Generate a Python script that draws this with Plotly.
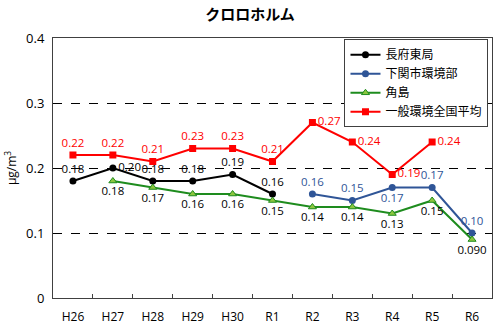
import plotly.graph_objects as go

# Fiscal years (Heisei / Reiwa)
years = ["H26", "H27", "H28", "H29", "H30", "R1", "R2", "R3", "R4", "R5", "R6"]

# Annual mean chloroform concentration (μg/m³)
chofu = [0.18, 0.20, 0.18, 0.18, 0.19, 0.16, None, None, None, None, None]
shimonoseki = [None, None, None, None, None, None, 0.16, 0.15, 0.17, 0.17, 0.10]
tsunoshima = [None, 0.18, 0.17, 0.16, 0.16, 0.15, 0.14, 0.14, 0.13, 0.15, 0.090]
national = [0.22, 0.22, 0.21, 0.23, 0.23, 0.21, 0.27, 0.24, 0.19, 0.24, None]

FONT = "Open Sans, Noto Sans CJK JP, sans-serif"
LABEL_SIZE = 11.5


def labels(vals):
    out = []
    for v in vals:
        if v is None:
            out.append("")
        elif v < 0.1:
            out.append("{:.3f}".format(v))
        else:
            out.append("{:.2f}".format(v))
    return out


fig = go.Figure()

fig.add_trace(go.Scatter(
    x=years, y=chofu, name="長府東局", mode="lines+markers+text",
    line=dict(color="#000000", width=2),
    marker=dict(symbol="circle", size=7, color="#000000"),
    text=labels(chofu),
    textposition=["top center", "middle right", "top center", "top center",
                  "top center", "top center"] + ["top center"] * 5,
    textfont=dict(color="#000000", size=LABEL_SIZE, family=FONT),
    cliponaxis=False,
))

fig.add_trace(go.Scatter(
    x=years, y=shimonoseki, name="下関市環境部", mode="lines+markers+text",
    line=dict(color="#2F5597", width=2),
    marker=dict(symbol="circle", size=7, color="#2F5597"),
    text=labels(shimonoseki),
    textposition=["top center"] * 8 + ["bottom center", "top center", "top center"],
    textfont=dict(color="#2F5597", size=LABEL_SIZE, family=FONT),
    cliponaxis=False,
))

fig.add_trace(go.Scatter(
    x=years, y=tsunoshima, name="角島", mode="lines+markers+text",
    line=dict(color="#1E8C1E", width=2),
    marker=dict(symbol="triangle-up", size=7, color="#8CC63F",
                line=dict(color="#1E8C1E", width=1)),
    text=labels(tsunoshima),
    textposition="bottom center",
    textfont=dict(color="#000000", size=LABEL_SIZE, family=FONT),
    cliponaxis=False,
))

fig.add_trace(go.Scatter(
    x=years, y=national, name="一般環境全国平均", mode="lines+markers+text",
    line=dict(color="#FF0000", width=2),
    marker=dict(symbol="square", size=7, color="#FF0000"),
    text=labels(national),
    textposition=["top center"] * 6 + ["middle right"] * 4 + ["top center"],
    textfont=dict(color="#FF0000", size=LABEL_SIZE, family=FONT),
    cliponaxis=False,
))

fig.update_layout(
    width=500, height=326,
    margin=dict(l=53, r=8, t=38, b=28),
    paper_bgcolor="white", plot_bgcolor="white",
    font=dict(family=FONT, size=12, color="#000000"),
    title=dict(text="<b>クロロホルム</b>", x=0.5, xanchor="center",
               y=0.955, yanchor="middle",
               font=dict(size=15, family=FONT, color="#000000")),
    showlegend=True,
    legend=dict(
        x=0.828, y=0.995, xanchor="center", yanchor="top",
        bgcolor="white", bordercolor="#404040", borderwidth=1,
        font=dict(size=12, family=FONT, color="#000000"),
        tracegroupgap=0, itemwidth=30,
    ),
    xaxis=dict(
        type="category", categoryorder="array", categoryarray=years,
        showline=True, linecolor="#404040", linewidth=1, mirror=True,
        ticks="inside", tickson="boundaries", ticklen=4, tickcolor="#404040",
        showgrid=False, zeroline=False, ticklabelstandoff=8, automargin=False,
        tickfont=dict(size=12, family=FONT),
        range=[-0.5, 10.5],
    ),
    yaxis=dict(
        range=[0, 0.4], tickvals=[0, 0.1, 0.2, 0.3, 0.4],
        ticktext=["0", "0.1", "0.2", "0.3", "0.4"],
        showline=True, linecolor="#404040", linewidth=1, mirror=True,
        showgrid=True, gridcolor="#000000", gridwidth=1, griddash="dash",
        zeroline=False, ticks="", ticklabelstandoff=5, automargin=False,
        tickfont=dict(size=13, family=FONT),
        title=dict(text="μg/m<sup>3</sup>", standoff=6,
                   font=dict(size=12, family=FONT)),
    ),
)

fig.write_html("out.html")
